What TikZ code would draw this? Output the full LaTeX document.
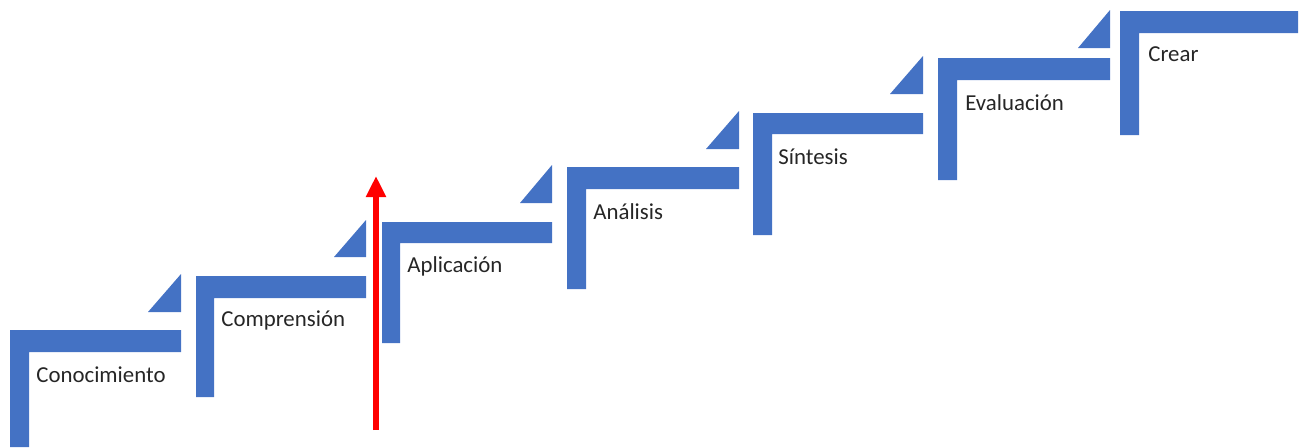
\documentclass[tikz,border=0pt]{standalone}
\usepackage{fontspec}
\setmainfont{Carlito}
\usepackage{xcolor}
\usetikzlibrary{arrows.meta}

\definecolor{stepblue}{HTML}{4472C4}

\begin{document}
\begin{tikzpicture}[
    x=0.02cm, y=-0.02cm,
    stepfill/.style={fill=stepblue},
    lbl/.style={anchor=west, inner sep=0pt, font=\fontsize{13}{15}\selectfont, text=black!85},
    arr/.style={-{Triangle[length=0.42cm, width=0.38cm]}, red, line width=0.13cm},
]
\useasboundingbox (0,0) rectangle (1301,447);

% Steps (L-shapes)
\fill[stepfill] (10,330) -- (181,330) -- (181,352) -- (29,352) -- (29,447) -- (10,447) -- cycle;
\fill[stepfill] (196,276) -- (366,276) -- (366,298) -- (214,298) -- (214,397) -- (196,397) -- cycle;
\fill[stepfill] (382,222) -- (552,222) -- (552,243) -- (400,243) -- (400,343) -- (382,343) -- cycle;
\fill[stepfill] (567,167) -- (739,167) -- (739,189) -- (586,189) -- (586,289) -- (567,289) -- cycle;
\fill[stepfill] (753,113) -- (923,113) -- (923,134) -- (772,134) -- (772,235) -- (753,235) -- cycle;
\fill[stepfill] (938,58) -- (1110,58) -- (1110,80) -- (957,80) -- (957,180) -- (938,180) -- cycle;
\fill[stepfill] (1120,11) -- (1298,11) -- (1298,33) -- (1139,33) -- (1139,135) -- (1120,135) -- cycle;

% Triangles at the step ends
\fill[stepfill] (181,274) -- (181,312) -- (148,312) -- cycle;
\fill[stepfill] (366,220) -- (366,257) -- (334,257) -- cycle;
\fill[stepfill] (552,165) -- (552,203) -- (520,203) -- cycle;
\fill[stepfill] (739,111) -- (739,149) -- (706,149) -- cycle;
\fill[stepfill] (923,56) -- (923,94) -- (890,94) -- cycle;
\fill[stepfill] (1110,10) -- (1110,48) -- (1078,48) -- cycle;

% Labels
\node[lbl] (conoc) at (36,375) {Conocimiento};
\node[lbl] (compr) at (221,320) {Comprensión};
\node[lbl] (aplic) at (407,266) {Aplicación};
\node[lbl] (anali) at (593,212) {Análisis};
\node[lbl] (sinte) at (778,157) {Síntesis};
\node[lbl] (evalu) at (965,103) {Evaluación};
\node[lbl] (crear) at (1148,54) {Crear};

% Red arrow
\coordinate (arrbot) at (376,430);
\coordinate (arrtop) at (376,176);
\draw[arr] (arrbot) -- (arrtop);

\end{tikzpicture}
\end{document}
